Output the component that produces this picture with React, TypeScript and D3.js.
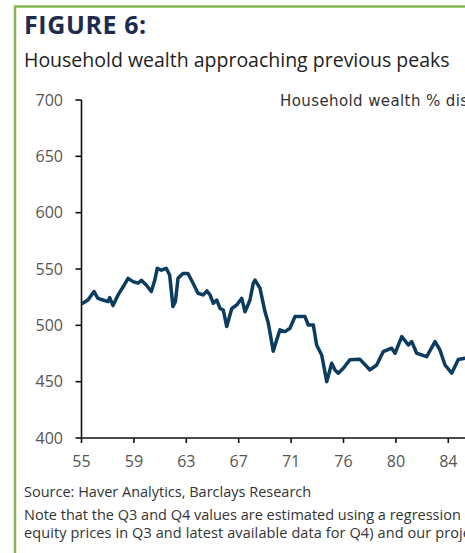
import React from "react";
import * as d3 from "d3";

// Household wealth as % of disposable income (quarterly)
const years: number[] = [
  1955.0, 1955.51, 1955.99, 1956.3, 1956.7, 1957.1, 1957.23, 1957.49, 1957.89, 1958.28,
  1958.68, 1959.07, 1959.47, 1959.73, 1960.12, 1960.52, 1960.79, 1960.99, 1961.31, 1961.7,
  1961.97, 1962.23, 1962.42, 1962.63, 1963.02, 1963.42, 1963.82, 1964.21, 1964.61, 1964.92,
  1965.16, 1965.42, 1965.69, 1965.95, 1966.21, 1966.48, 1966.88, 1967.27, 1967.67, 1967.93,
  1968.32, 1968.58, 1968.72, 1969.11, 1969.51, 1969.77, 1970.16, 1970.43, 1970.69, 1971.09,
  1971.48, 1971.88, 1972.27, 1972.67, 1972.93, 1973.33, 1973.59, 1973.99, 1974.39, 1974.78,
  1975.04, 1975.3, 1975.7, 1976.23, 1977.02, 1977.81, 1978.34, 1978.86, 1979.52, 1979.79,
  1980.32, 1980.84, 1981.11, 1981.5, 1982.29, 1982.95, 1983.34, 1983.74, 1984.27, 1984.79,
  1985.32, 1985.87,
];
const wealth: number[] = [
  519, 522.5, 530, 524, 522.5, 521, 524.6, 517.5, 527, 534,
  541.7, 538.8, 537.4, 540, 535.8, 530, 540, 550.6, 549, 550.6,
  544.7, 516.7, 521, 541.7, 546, 546, 537.4, 528.5, 527, 530.5,
  527, 519.6, 522.5, 515, 513.6, 499, 515, 518, 524, 512,
  522.5, 537.3, 540.2, 533, 512, 502, 477, 487, 496, 494.4,
  497.4, 507.8, 507.8, 507.8, 500.3, 500.3, 482.5, 473.7, 450, 466.3,
  460.4, 457.5, 461.9, 469.5, 469.8, 460.4, 464.8, 476.7, 479.7, 475.2,
  490, 482.5, 485.6, 475.2, 472.2, 485.6, 478.1, 464.8, 457.5, 469.6,
  470.7, 472,
];
const xTickLabels: string[] = ["55", "59", "63", "67", "71", "76", "80", "84"];
const yTicks: number[] = [400, 450, 500, 550, 600, 650, 700];

const W = 465;
const H = 553;
const FONT = "'Open Sans', sans-serif";

export default function App() {
  const x0 = 81.5;
  const x1 = 448.3;
  const x = d3.scaleLinear().domain([1955, 1984]).range([x0, x1]);
  const y = d3.scaleLinear().domain([400, 700]).range([438, 100]);
  const tickYears = xTickLabels.map((_, i) => 1955 + (i * 29) / (xTickLabels.length - 1));
  const data = years.map((t, i) => [t, wealth[i]] as [number, number]);
  const line = d3
    .line<[number, number]>()
    .x((d) => x(d[0]))
    .y((d) => y(d[1]));

  return (
    <svg
      width={W}
      height={H}
      style={{ position: "absolute", left: 0, top: 0, background: "#fff" }}
    >
      <rect x={0} y={0} width={W} height={H} fill="#fff" />
      {/* green frame */}
      <path d={`M15,${H + 5} V6.5 H${W + 5}`} fill="none" stroke="#82b650" strokeWidth={2.5} />

      <text x={24} y={34} fontFamily={FONT} fontWeight={700} fontSize={25} fill="#1d2c4c" letterSpacing={0.6}>
        FIGURE 6:
      </text>
      <text x={24} y={67} fontFamily={FONT} fontSize={19.5} fill="#222">
        Household wealth approaching previous peaks
      </text>
      <text x={280} y={106} fontFamily="'DejaVu Sans', sans-serif" fontSize={15} letterSpacing={0.4} fill="#333">
        Household wealth % disposable income
      </text>

      {/* y axis */}
      <line x1={x0} x2={x0} y1={y(700)} y2={y(400)} stroke="#111" strokeWidth={1.6} />
      {yTicks.map((t) => (
        <g key={t}>
          <line x1={x0 - 6} x2={x0} y1={y(t)} y2={y(t)} stroke="#111" strokeWidth={1.6} />
          <text
            x={63}
            y={y(t)}
            dy="0.35em"
            textAnchor="end"
            fontFamily={FONT}
            fontSize={16}
            fill="#555"
          >
            {t}
          </text>
        </g>
      ))}

      {/* x axis */}
      <line x1={x0} x2={W + 5} y1={y(400)} y2={y(400)} stroke="#111" strokeWidth={1.6} />
      {tickYears.map((t, i) => (
        <g key={i}>
          <line x1={x(t)} x2={x(t)} y1={y(400)} y2={y(400) + 5} stroke="#111" strokeWidth={1.6} />
          <text
            x={x(t)}
            y={467}
            textAnchor="middle"
            fontFamily={FONT}
            fontSize={16}
            fill="#555"
          >
            {xTickLabels[i]}
          </text>
        </g>
      ))}

      <path d={line(data) || ""} fill="none" stroke="#0c3c60" strokeWidth={3.5} strokeLinejoin="round" />

      <text x={24} y={497} fontFamily={FONT} fontSize={14.5} fill="#333">
        Source: Haver Analytics, Barclays Research
      </text>
      <text x={24} y={520} fontFamily={FONT} fontSize={14.5} fill="#333">
        Note that the Q3 and Q4 values are estimated using a regression of
      </text>
      <text x={24} y={538} fontFamily={FONT} fontSize={14.5} letterSpacing={0.1} fill="#333">
        equity prices in Q3 and latest available data for Q4) and our projections
      </text>
    </svg>
  );
}
